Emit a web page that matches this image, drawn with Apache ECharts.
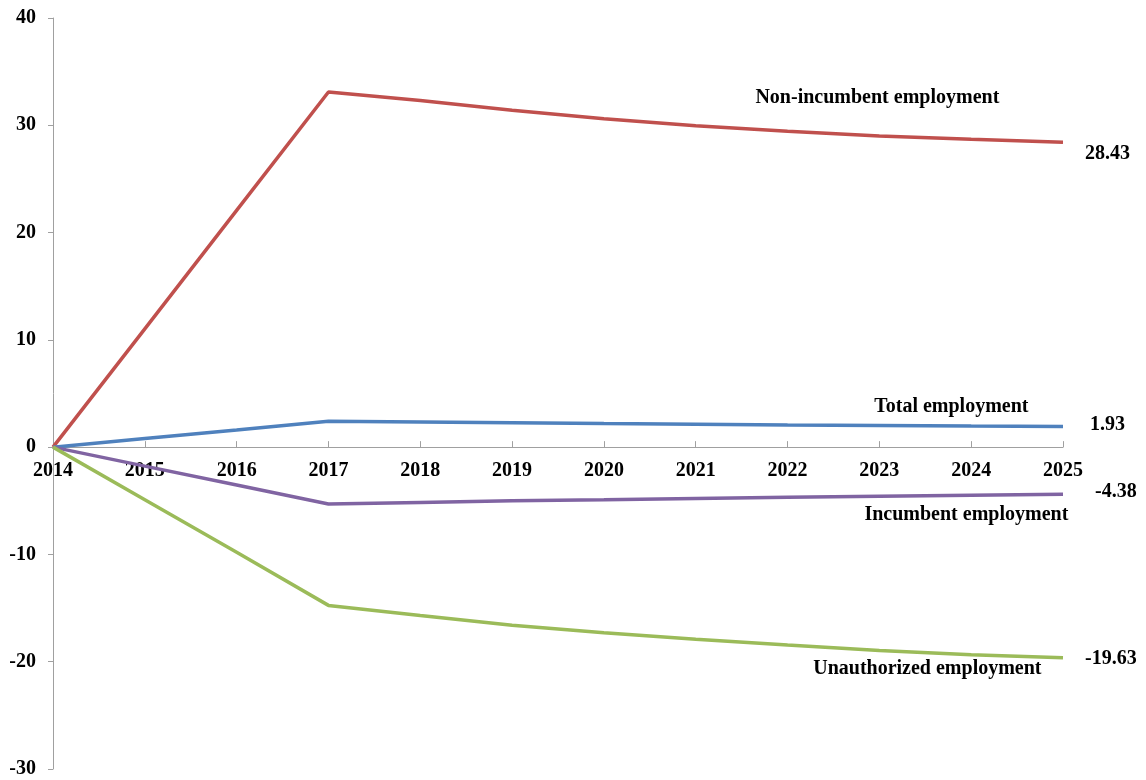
<!DOCTYPE html>
<html>
<head>
<meta charset="utf-8">
<script src="https://cdn.jsdelivr.net/npm/echarts@6/dist/echarts.min.js"></script>
<style>html,body{margin:0;padding:0;background:#fff}#c{width:1146px;height:780px}</style>
</head>
<body>
<div id="c"></div>
<script>
var years = ['2014','2015','2016','2017','2018','2019','2020','2021','2022','2023','2024','2025'];
var nonIncumbent = [0, 11.03, 22.07, 33.1, 32.3, 31.4, 30.6, 29.95, 29.45, 29.0, 28.7, 28.43];
var total = [0, 0.8, 1.6, 2.42, 2.35, 2.28, 2.2, 2.14, 2.07, 2.02, 1.97, 1.93];
var incumbent = [0, -1.77, -3.53, -5.3, -5.15, -5.0, -4.9, -4.78, -4.68, -4.58, -4.48, -4.38];
var unauthorized = [0, -4.9, -9.8, -14.75, -15.7, -16.6, -17.3, -17.9, -18.45, -18.95, -19.35, -19.63];
var yTicks = { min: -30, max: 40, interval: 10 };

var FONT = 'Liberation Serif';
var txt = { fontFamily: FONT, fontWeight: 'bold', fontSize: 20, color: '#000' };

var GRID = { left: 53, right: 83, top: 18, bottom: 11 };
var plotH = 780 - GRID.top - GRID.bottom;
var zeroFromBottom = plotH * (0 - yTicks.min) / (yTicks.max - yTicks.min);

function mkSeries(name, data, color, labelCat, labelVal, labelOffset, endOffset) {
  return {
    name: name, type: 'line', data: data, symbol: 'none', smooth: false,
    lineStyle: { color: color, width: 3.5 },
    itemStyle: { color: color },
    endLabel: Object.assign({ show: true, formatter: function (p) { return p.value.toFixed(2); }, offset: endOffset, distance: 0, align: 'left' }, txt),
    markPoint: {
      symbol: 'circle', symbolSize: 0, silent: true,
      data: [{ coord: [labelCat, labelVal], value: name }],
      label: Object.assign({ show: true, formatter: name, position: 'inside', offset: labelOffset }, txt)
    }
  };
}

var chart = echarts.init(document.getElementById('c'));
chart.setOption({
  animation: false,
  backgroundColor: '#fff',
  grid: Object.assign({ containLabel: false, outerBoundsMode: 'none' }, GRID),
  xAxis: {
    type: 'category', data: years, boundaryGap: false, position: 'bottom',
    offset: -zeroFromBottom,
    axisLine: { onZero: false, lineStyle: { color: '#a0a0a0', width: 1 } },
    axisTick: { show: true, inside: true, length: 6, alignWithLabel: true, lineStyle: { color: '#a0a0a0' } },
    axisLabel: Object.assign({ margin: 14, interval: 0 }, txt),
    splitLine: { show: false }
  },
  yAxis: {
    type: 'value', min: yTicks.min, max: yTicks.max, interval: yTicks.interval,
    axisLine: { show: true, lineStyle: { color: '#a0a0a0', width: 1 } },
    axisTick: { show: true, length: 5, lineStyle: { color: '#a0a0a0' } },
    axisLabel: Object.assign({ margin: 17 }, txt),
    splitLine: { show: false }
  },
  series: [
    mkSeries('Non-incumbent employment', nonIncumbent, '#C0504D', '2023', 29.0, [-2, -38], [22, 12]),
    mkSeries('Total employment', total, '#4F81BD', '2023', 2.02, [72, -19], [27, -2]),
    mkSeries('Incumbent employment', incumbent, '#8064A2', '2023', -4.58, [87, 19], [32, -2]),
    mkSeries('Unauthorized employment', unauthorized, '#9BBB59', '2023', -18.95, [48, 18], [22, 1])
  ]
});
</script>
</body>
</html>
